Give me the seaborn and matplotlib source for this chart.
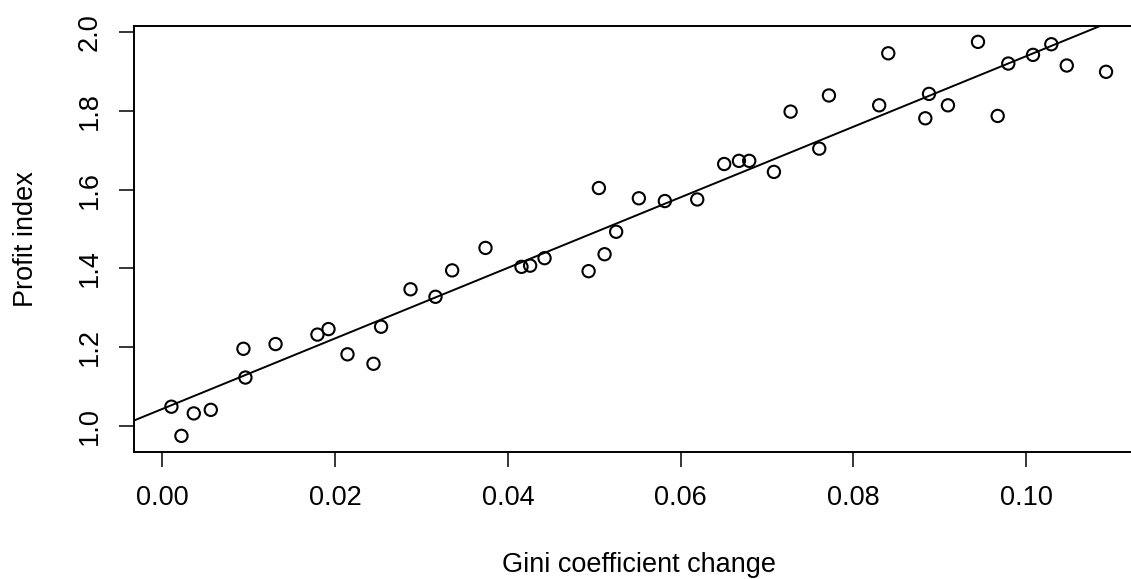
import matplotlib
matplotlib.use('Agg')
import matplotlib.pyplot as plt
import seaborn as sns
import numpy as np
import pandas as pd

# values
gini_change = [0.00104, 0.0022, 0.00363, 0.0056, 0.00938, 0.00961, 0.0131,
               0.01795, 0.01923, 0.02143, 0.02444, 0.02532, 0.02873, 0.03162,
               0.03355, 0.03741, 0.04158, 0.04258, 0.04425, 0.04935, 0.05054,
               0.0512, 0.05254, 0.05517, 0.05818, 0.06193, 0.06505, 0.06676,
               0.06795, 0.07081, 0.07274, 0.07606, 0.07718, 0.083, 0.08405,
               0.08834, 0.08877, 0.09096, 0.09444, 0.09672, 0.09795, 0.10081,
               0.10293, 0.10472, 0.10927]
profit_index = [1.049, 0.975, 1.032, 1.041, 1.196, 1.123, 1.208,
                1.232, 1.246, 1.182, 1.158, 1.252, 1.347, 1.328,
                1.395, 1.452, 1.404, 1.407, 1.426, 1.393, 1.604,
                1.436, 1.493, 1.578, 1.571, 1.575, 1.665, 1.673,
                1.673, 1.645, 1.798, 1.704, 1.839, 1.814, 1.946,
                1.781, 1.843, 1.814, 1.975, 1.787, 1.920, 1.942,
                1.969, 1.915, 1.899]
x_ticks = [0.00, 0.02, 0.04, 0.06, 0.08, 0.10]
y_ticks = [1.0, 1.2, 1.4, 1.6, 1.8, 2.0]

df = pd.DataFrame({'gini': gini_change, 'profit': profit_index})

sns.set_theme(style='white')
plt.rcParams['font.family'] = ['Liberation Sans', 'DejaVu Sans']

fig = plt.figure(figsize=(11.31, 5.79), dpi=100)
ax = fig.add_axes([0.1185, 0.2200, 0.8925, 0.7349])

# R style 4% padding around the data
xr = df['gini'].max() - df['gini'].min()
yr = df['profit'].max() - df['profit'].min()
xlim = (df['gini'].min() - 0.04 * xr, df['gini'].max() + 0.04 * xr)
ylim = (df['profit'].min() - 0.04 * yr, df['profit'].max() + 0.04 * yr)

sns.scatterplot(data=df, x='gini', y='profit', ax=ax, marker='o', s=78,
                facecolors='none', edgecolor='black', linewidth=1.5)

# least squares line across the whole plot region
slope, intercept = np.polyfit(df['gini'], df['profit'], 1)
xs = np.array(xlim)
ax.plot(xs, intercept + slope * xs, color='black', linewidth=1.4)

ax.set_xlim(xlim)
ax.set_ylim(ylim)
ax.set_xticks(x_ticks)
ax.set_xticklabels([f'{v:.2f}' for v in x_ticks])
ax.set_yticks(y_ticks)
ax.set_yticklabels([f'{v:.1f}' for v in y_ticks], va='center')

for s in ax.spines.values():
    s.set_color('black')
    s.set_linewidth(1.4)

ax.tick_params(axis='both', which='major', length=10.8, width=1.1,
               color='black', labelsize=19.5, labelcolor='black',
               bottom=True, left=True)
ax.tick_params(axis='x', pad=13.5)
ax.tick_params(axis='y', pad=11.5, labelrotation=90)

ax.set_xlabel('Gini coefficient change', fontsize=19.5, color='black')
ax.set_ylabel('Profit index', fontsize=19.5, color='black')
ax.xaxis.set_label_coords(0.5, -0.235)
ax.yaxis.set_label_coords(-0.094, 0.5)

fig.savefig('out.png', dpi=100)
